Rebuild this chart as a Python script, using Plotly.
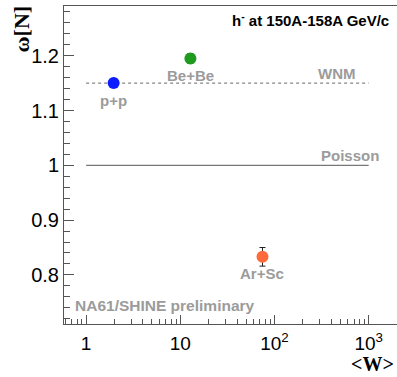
import math
import plotly.graph_objects as go

# Scaled variance of negatively charged hadron multiplicity vs. mean number of wounded nucleons
systems = ["p+p", "Be+Be", "Ar+Sc"]
mean_w = [1.96, 12.8, 74.6]
omega = [1.150, 1.195, 0.833]
omega_err = [0.004, 0.009, 0.017]
colors = ["#0b1cff", "#1e9a1e", "#ff6a3d"]

wnm_level = 1.15
poisson_level = 1.0
ref_w = [1, 1000]

x_tickvals = [1, 10, 100, 1000]
x_ticktext = ["1", "10", "10<sup>2</sup>", "10<sup>3</sup>"]
x_minor = [0.6, 0.7, 0.8, 0.9] + [m * d for d in (1, 10, 100, 1000) for m in range(2, 10)]

grey = "#9b9b9b"
axis_col = "#555555"
sans = "Liberation Sans"
serif = "Liberation Serif"

fig = go.Figure()

# Reference lines
fig.add_trace(go.Scatter(x=ref_w, y=[wnm_level] * 2, mode="lines",
                         line=dict(color="#666666", width=1, dash="dot"),
                         hoverinfo="skip", showlegend=False))
fig.add_trace(go.Scatter(x=ref_w, y=[poisson_level] * 2, mode="lines",
                         line=dict(color="#555555", width=1),
                         hoverinfo="skip", showlegend=False))

# Data points
for name, w, om, er, c in zip(systems, mean_w, omega, omega_err, colors):
    fig.add_trace(go.Scatter(
        x=[w], y=[om], mode="markers", name=name,
        marker=dict(color=c, size=12, line=dict(width=0)),
        error_y=dict(type="data", array=[er], color="#222222", thickness=1, width=3),
        showlegend=False))

# System labels below each point (annotation x on a log axis is given in log10 units)
for name, w, om in zip(systems, mean_w, omega):
    fig.add_annotation(x=math.log10(w), y=om, text=f"<b>{name}</b>", showarrow=False,
                       yshift=-17, font=dict(family=sans, size=15, color=grey),
                       xref="x", yref="y")

fig.add_annotation(x=math.log10(ref_w[1]), y=wnm_level, text="<b>WNM</b>", showarrow=False,
                   xanchor="right", yanchor="bottom", xshift=-11, yshift=-1,
                   font=dict(family=sans, size=15, color=grey))
fig.add_annotation(x=math.log10(ref_w[1]), y=poisson_level, text="<b>Poisson</b>", showarrow=False,
                   xanchor="right", yanchor="bottom", xshift=12, yshift=-1,
                   font=dict(family=sans, size=15, color=grey))
fig.add_annotation(x=0.0, y=0.0, xref="paper", yref="paper",
                   text="<b>NA61/SHINE preliminary</b>", showarrow=False,
                   xanchor="left", yanchor="bottom", xshift=9, yshift=8,
                   font=dict(family=sans, size=15.5, color=grey))
fig.add_annotation(x=1.0, y=1.0, xref="paper", yref="paper",
                   text="<b>h<sup>-</sup> at 150A-158A GeV/c</b>", showarrow=False,
                   xanchor="right", yanchor="top", xshift=-6, yshift=-2,
                   font=dict(family=sans, size=15, color="black"))

# Axis titles
fig.add_annotation(x=0, y=1, xref="paper", yref="paper", text="<b>ω[N]</b>",
                   textangle=-90, showarrow=False, xanchor="center", yanchor="top",
                   xshift=-43, yshift=2,
                   font=dict(family=serif, size=22, color="black"))
fig.add_annotation(x=1, y=0, xref="paper", yref="paper", text="<b>&lt;W&gt;</b>",
                   showarrow=False, xanchor="right", yanchor="bottom",
                   xshift=-2, yshift=-52, borderpad=0,
                   font=dict(family=serif, size=20, color="black"))

fig.update_xaxes(
    type="log", range=[-0.235, 3.301],
    tickmode="array", tickvals=x_tickvals, ticktext=x_ticktext,
    ticks="inside", ticklen=9, tickwidth=1, tickcolor=axis_col,
    minor=dict(tickmode="array", tickvals=x_minor, ticks="inside",
               ticklen=5, tickwidth=1, tickcolor=axis_col),
    showline=True, linecolor=axis_col, linewidth=1, mirror=True,
    showgrid=False, zeroline=False,
    tickfont=dict(family=sans, size=19, color="black"),
    ticklabelstandoff=2,
)
fig.update_yaxes(
    range=[0.7104, 1.2907],
    tick0=0.7, dtick=0.1,
    ticks="inside", ticklen=10, tickwidth=1, tickcolor=axis_col,
    minor=dict(dtick=0.02, ticks="inside", ticklen=6, tickwidth=1, tickcolor=axis_col),
    showline=True, linecolor=axis_col, linewidth=1, mirror=False,
    showgrid=False, zeroline=False,
    tickfont=dict(family=sans, size=20, color="black"),
    ticklabelstandoff=0,
)

fig.update_layout(
    width=397, height=377,
    margin=dict(l=64, r=0, t=6, b=53),
    paper_bgcolor="white", plot_bgcolor="white",
    showlegend=False,
)

fig.write_html("out.html")
